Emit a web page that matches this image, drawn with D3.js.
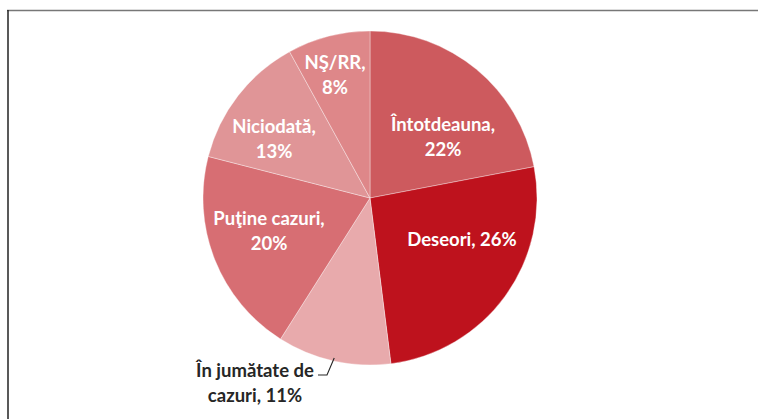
<!DOCTYPE html>
<html>
<head>
<meta charset="utf-8">
<script src="https://cdn.jsdelivr.net/npm/d3@7"></script>
<style>
  html, body { margin: 0; padding: 0; background: #ffffff; }
  svg { display: block; }
</style>
</head>
<body>
<svg id="chart" width="758" height="419"></svg>
<script>
// ---- data ----
const categories = ["Întotdeauna", "Deseori", "În jumătate de cazuri", "Puţine cazuri", "Niciodată", "NŞ/RR"];
const values = [22, 26, 11, 20, 13, 8];
const labelLines = [
  ["Întotdeauna,", "22%"],
  ["Deseori, 26%"],
  ["În jumătate de", "cazuri, 11%"],
  ["Puţine cazuri,", "20%"],
  ["Niciodată,", "13%"],
  ["NŞ/RR,", "8%"]
];
const colors = ["#CD5A5E", "#BE121D", "#E8AAAC", "#D76E73", "#E09597", "#DE8789"];

// ---- layout ----
const W = 758, H = 419;
const cx = 370, cy = 198, R = 167;
// label anchor (first baseline) relative to the pie centre, and whether outside
const labelLayout = [
  {dx: 73, dy: -67, out: false},
  {dx: 92, dy: 48, out: false},
  {dx: -115, dy: 179, out: true},
  {dx: -101, dy: 27, out: false},
  {dx: -96, dy: -65, out: false},
  {dx: -35, dy: -129, out: false}
];
const lineH = 25;

const svg = d3.select("#chart");

// frame lines
svg.append("line").attr("x1", 7).attr("x2", W).attr("y1", 10.5).attr("y2", 10.5)
  .attr("stroke", "#777").attr("stroke-width", 1.5);
svg.append("line").attr("x1", 8).attr("x2", 8).attr("y1", 10).attr("y2", H)
  .attr("stroke", "#222").attr("stroke-width", 1.5);

const data = categories.map((c, i) => ({cat: c, value: values[i], i}));
const pie = d3.pie().value(d => d.value).sort(null).startAngle(0).endAngle(2 * Math.PI);
const arcs = pie(data);
const arc = d3.arc().innerRadius(0).outerRadius(R);
const color = d3.scaleOrdinal().domain(categories).range(colors);

const g = svg.append("g").attr("transform", `translate(${cx},${cy})`);
g.selectAll("path.slice").data(arcs).enter().append("path")
  .attr("class", "slice")
  .attr("d", arc)
  .attr("fill", d => color(d.data.cat))
  .attr("stroke", "#ffffff")
  .attr("stroke-width", 0.6)
  .attr("stroke-opacity", 0.6);

// leader line for the outside label
arcs.forEach((a, i) => {
  if (!labelLayout[i].out) return;
  const mid = (a.startAngle + a.endAngle) / 2;
  const ex = Math.sin(mid) * (R - 3), ey = -Math.cos(mid) * (R - 3);
  const lx = labelLayout[i].dx + 63, ly = labelLayout[i].dy - 2;
  g.append("polyline")
    .attr("points", [[lx, ly], [lx + 9, ly], [ex, ey]].map(p => p.join(",")).join(" "))
    .attr("fill", "none").attr("stroke", "#262626").attr("stroke-width", 1.1);
});

// labels
arcs.forEach((a, i) => {
  const L = labelLayout[i];
  const t = g.append("text")
    .attr("text-anchor", "middle")
    .attr("font-family", "Lato, 'Open Sans', sans-serif")
    .attr("font-weight", 700)
    .attr("font-size", 18.5)
    .attr("fill", L.out ? "#262626" : "#ffffff");
  labelLines[i].forEach((ln, k) => {
    t.append("tspan").attr("x", L.dx).attr("y", L.dy + k * lineH).text(ln);
  });
});
</script>
</body>
</html>
